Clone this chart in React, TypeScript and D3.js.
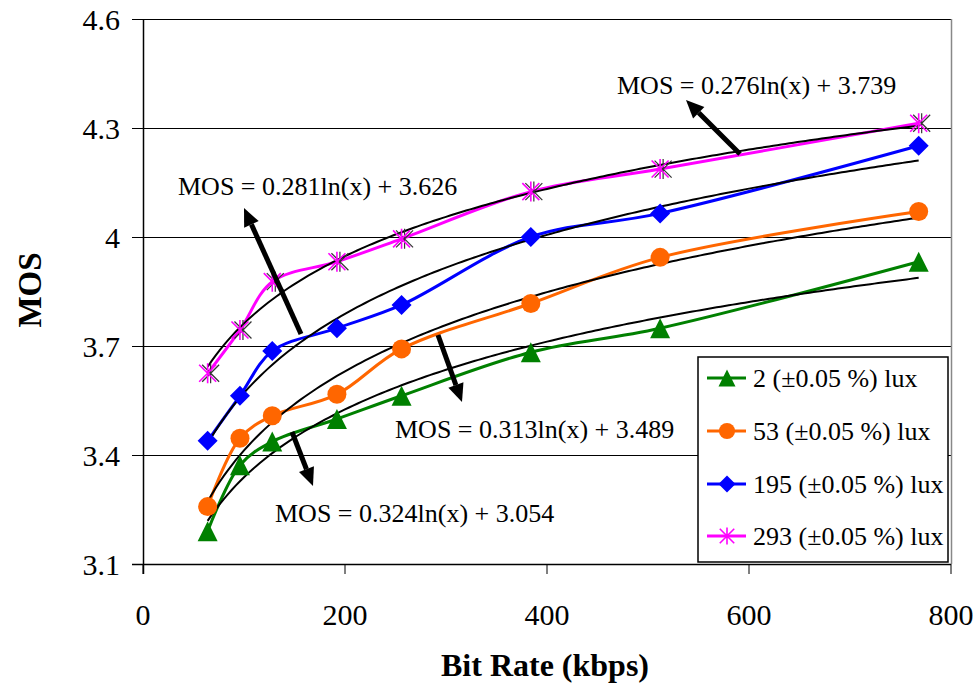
import React from "react";
import * as d3 from "d3";

const W = 976;
const H = 688;

// bit rates (kbps) used for every series
const bitRates = [64, 96, 128, 192, 256, 384, 512, 768];

const lux2 = [3.19, 3.372, 3.437, 3.499, 3.563, 3.683, 3.749, 3.932];
const lux53 = [3.258, 3.446, 3.508, 3.567, 3.692, 3.817, 3.944, 4.07];
const lux195 = [3.439, 3.563, 3.686, 3.749, 3.813, 4.0, 4.065, 4.251];
const lux293 = [3.625, 3.744, 3.877, 3.932, 3.995, 4.125, 4.187, 4.313];

const seriesNames = [
  "2 (\u00b10.05 %) lux",
  "53 (\u00b10.05 %) lux",
  "195 (\u00b10.05 %) lux",
  "293 (\u00b10.05 %) lux",
];
const seriesColors = ["#008000", "#FF6600", "#0000FF", "#FF00FF"];
const seriesMarkers = ["triangle", "circle", "diamond", "star"];
const seriesValues = [lux2, lux53, lux195, lux293];

const xTicks = [0, 200, 400, 600, 800];
const yTicks = [3.1, 3.4, 3.7, 4.0, 4.3, 4.6];

// trendline labels and where their arrows go
const eqTexts = [
  "MOS = 0.276ln(x) + 3.739",
  "MOS = 0.281ln(x) + 3.626",
  "MOS = 0.313ln(x) + 3.489",
  "MOS = 0.324ln(x) + 3.054",
];
const eqPos = [
  [617, 85],
  [178, 186],
  [395, 429],
  [275, 513],
];
const arrows = [
  [740, 154, 686, 100],
  [301, 334, 244, 208],
  [438, 335, 462, 402],
  [292, 432, 313, 486],
];

const FONT = "'Liberation Serif', 'Times New Roman', serif";

function logFit(xs: number[], ys: number[]) {
  const lx = xs.map((v) => Math.log(v));
  const mx = d3.mean(lx)!;
  const my = d3.mean(ys)!;
  let sxy = 0;
  let sxx = 0;
  lx.forEach((v, i) => {
    sxy += (v - mx) * (ys[i] - my);
    sxx += (v - mx) * (v - mx);
  });
  const b = sxy / sxx;
  return { a: my - b * mx, b };
}

function Marker({ type, x, y, color, s = 1 }: any) {
  if (type === "triangle") {
    const h = 10 * s;
    return (
      <path
        d={`M${x},${y - h}L${x + h},${y + h}L${x - h},${y + h}Z`}
        fill={color}
      />
    );
  }
  if (type === "circle") return <circle cx={x} cy={y} r={9.5 * s} fill={color} />;
  if (type === "diamond") {
    const h = 10 * s;
    return (
      <path d={`M${x},${y - h}L${x + h},${y}L${x},${y + h}L${x - h},${y}Z`} fill={color} />
    );
  }
  const r = 10 * s;
  const d = r * 0.85;
  const star = (ox: number, c: string, w: number) => (
    <path
      d={`M${x + ox},${y - r}V${y + r}M${x + ox - d},${y - d}L${x + ox + d},${y + d}M${x + ox - d},${y + d}L${x + ox + d},${y - d}`}
      stroke={c}
      strokeWidth={w}
      fill="none"
    />
  );
  return (
    <g>
      {s === 1 ? star(3, "#333", 1.2) : null}
      {star(0, color, 1.6)}
    </g>
  );
}

export default function App() {
  const x = d3.scaleLinear().domain([0, 800]).range([143, 951]);
  const y = d3.scaleLinear().domain([3.1, 4.6]).range([564, 19]);

  const line = d3
    .line<number>()
    .x((_, i) => x(bitRates[i]))
    .y((d) => y(d))
    .curve(d3.curveCatmullRom.alpha(0.5));

  const fits = seriesValues.map((v) => logFit(bitRates, v));
  const trendXs = d3.range(64, 768.01, 4);
  const trendLine = d3
    .line<number>()
    .x((d) => x(d))
    .y((d) => d);

  const legendX = 698;
  const legendY = 357;
  const legendRows = [378, 431, 484, 536];

  return (
    <svg
      width={W}
      height={H}
      style={{ position: "absolute", left: 0, top: 0, background: "#fff" }}
      fontFamily={FONT}
    >
      <rect x={0} y={0} width={W} height={H} fill="#fff" />
      {/* grid */}
      {yTicks.slice(1).map((t) => (
        <line
          key={t}
          x1={x(0)}
          x2={x(800)}
          y1={Math.round(y(t)) + 0.5}
          y2={Math.round(y(t)) + 0.5}
          stroke="#000"
          strokeWidth={1}
        />
      ))}
      <line x1={x(800) + 0.5} x2={x(800) + 0.5} y1={y(4.6)} y2={y(3.1)} stroke="#888" strokeWidth={1.5} />
      {/* axes */}
      <line x1={x(0) + 0.5} x2={x(0) + 0.5} y1={y(4.6)} y2={y(3.1) + 10} stroke="#000" strokeWidth={1.5} />
      <line x1={x(0) - 11} x2={x(800)} y1={Math.round(y(3.1)) + 0.5} y2={Math.round(y(3.1)) + 0.5} stroke="#000" strokeWidth={1.5} />
      {yTicks.map((t) => (
        <g key={t}>
          <line x1={x(0) - 11} x2={x(0)} y1={Math.round(y(t)) + 0.5} y2={Math.round(y(t)) + 0.5} stroke="#000" />
          <text x={120} y={y(t)} textAnchor="end" dominantBaseline="central" fontSize={30}>
            {t === 4 ? "4" : t.toFixed(1)}
          </text>
        </g>
      ))}
      {xTicks.map((t) => (
        <g key={t}>
          <line x1={x(t)} x2={x(t)} y1={y(3.1)} y2={y(3.1) + 10} stroke="#000" />
          <text x={x(t)} y={614} textAnchor="middle" dominantBaseline="central" fontSize={30}>
            {t}
          </text>
        </g>
      ))}
      <text x={545} y={665} textAnchor="middle" dominantBaseline="central" fontSize={32} fontWeight="bold">
        Bit Rate (kbps)
      </text>
      <text
        transform={`translate(30,290) rotate(-90)`}
        textAnchor="middle"
        dominantBaseline="central"
        fontSize={33}
        fontWeight="bold"
      >
        MOS
      </text>

      {/* series */}
      {seriesValues.map((vals, si) => (
        <path key={si} d={line(vals)!} fill="none" stroke={seriesColors[si]} strokeWidth={3} />
      ))}
      {/* trendlines */}
      {fits.map((f, si) => (
        <path
          key={si}
          d={trendLine.y((d) => y(f.a + f.b * Math.log(d)))(trendXs)!}
          fill="none"
          stroke="#000"
          strokeWidth={2}
        />
      ))}
      {seriesValues.map((vals, si) =>
        vals.map((v, i) => (
          <Marker key={si + "-" + i} type={seriesMarkers[si]} x={x(bitRates[i])} y={y(v)} color={seriesColors[si]} />
        ))
      )}

      {/* equation labels */}
      {eqTexts.map((t, i) => (
        <text key={t} x={eqPos[i][0]} y={eqPos[i][1]} dominantBaseline="central" fontSize={26}>
          {t}
        </text>
      ))}
      {arrows.map(([x1, y1, x2, y2], i) => {
        const ang = Math.atan2(y2 - y1, x2 - x1);
        const L = 18;
        const Wd = 8;
        const bx = x2 - L * Math.cos(ang);
        const by = y2 - L * Math.sin(ang);
        const px = -Math.sin(ang) * Wd;
        const py = Math.cos(ang) * Wd;
        return (
          <g key={i}>
            <line x1={x1} y1={y1} x2={bx} y2={by} stroke="#000" strokeWidth={5} />
            <path d={`M${x2},${y2}L${bx + px},${by + py}L${bx - px},${by - py}Z`} fill="#000" />
          </g>
        );
      })}

      {/* legend */}
      <rect x={legendX} y={legendY} width={250} height={205} fill="#fff" stroke="#000" strokeWidth={1.5} />
      {seriesNames.map((n, i) => (
        <g key={n}>
          <line x1={707} x2={746} y1={legendRows[i]} y2={legendRows[i]} stroke={seriesColors[i]} strokeWidth={3} />
          <Marker type={seriesMarkers[i]} x={727} y={legendRows[i]} color={seriesColors[i]} s={0.85} />
          <text x={753} y={legendRows[i]} dominantBaseline="central" fontSize={26}>
            {n}
          </text>
        </g>
      ))}
    </svg>
  );
}
